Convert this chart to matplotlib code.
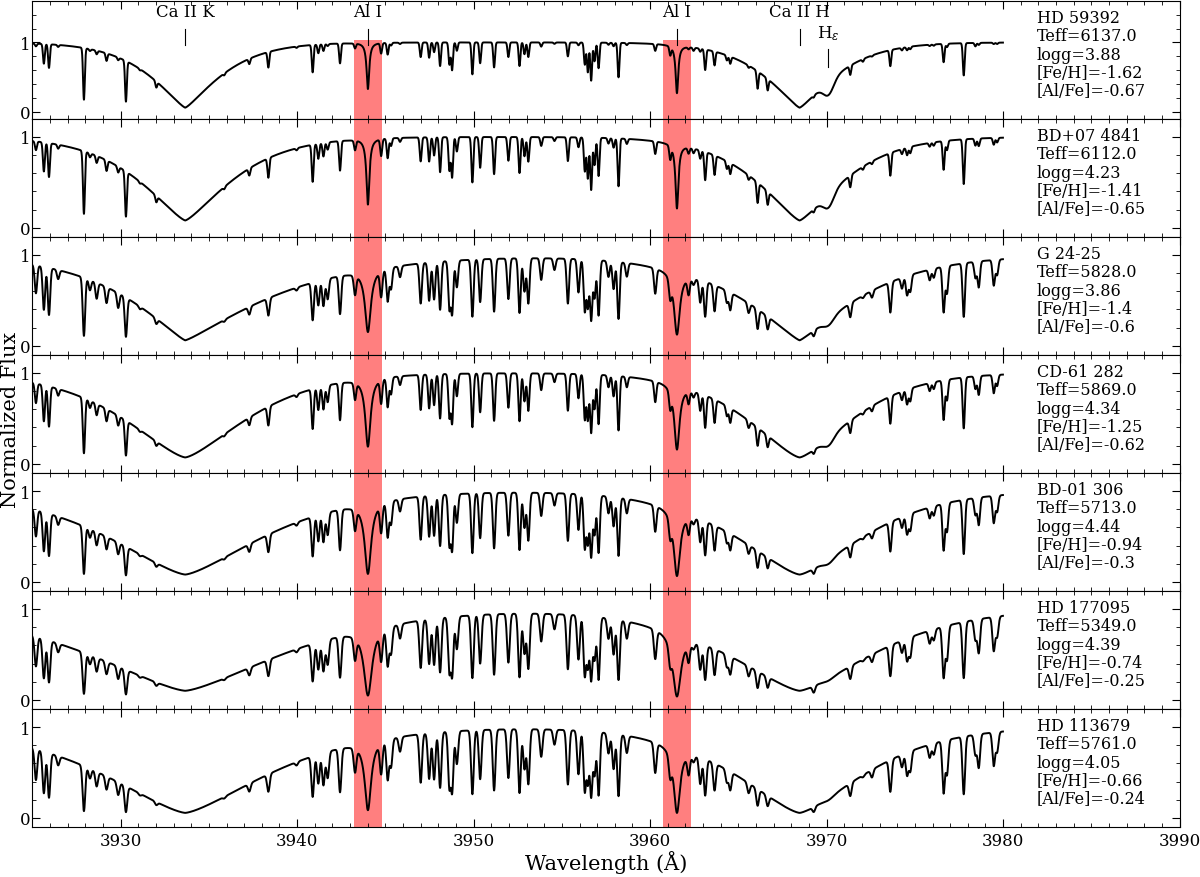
import numpy as np
import matplotlib.pyplot as plt
from matplotlib.ticker import MultipleLocator
import matplotlib.transforms as mtransforms

plt.rcParams['font.family'] = 'DejaVu Serif'
plt.rcParams['mathtext.fontset'] = 'dejavuserif'

# stars (top to bottom)
star_names = ['HD 59392', 'BD+07 4841', 'G 24-25', 'CD-61 282', 'BD-01 306', 'HD 177095', 'HD 113679']
teff = ['6137.0', '6112.0', '5828.0', '5869.0', '5713.0', '5349.0', '5761.0']
logg = ['3.88', '4.23', '3.86', '4.34', '4.44', '4.39', '4.05']
feh = ['-1.62', '-1.41', '-1.4', '-1.25', '-0.94', '-0.74', '-0.66']
alfe = ['-0.67', '-0.65', '-0.6', '-0.62', '-0.3', '-0.25', '-0.24']

# Ca II H & K wings: core depth, half widths (A) blue/red of K, H width, shape power
ca_core = [0.94, 0.92, 0.94, 0.93, 0.92, 0.90, 0.945]
ca_k_blue = [2.8, 3.7, 4.55, 5.0, 6.4, 8.0, 6.8]
ca_k_red = [2.8, 3.7, 6.5, 5.0, 6.4, 8.0, 6.8]
ca_h_width = [2.8, 3.5, 4.6, 4.3, 5.2, 6.0, 5.3]
ca_power = [1.25, 1.3, 1.2, 1.4, 1.4, 1.4, 1.4]

# H epsilon depth per star
heps_depth = [0.45, 0.4, 0.25, 0.3, 0.2, 0.1, 0.12]

# Al I lines: depth and width per star
al_wave = [3944.01, 3961.52]
al_depth = [[0.67, 0.72], [0.74, 0.77], [0.82, 0.85], [0.80, 0.82],
            [0.90, 0.92], [0.94, 0.95], [0.90, 0.93]]
al_width = [0.09, 0.10, 0.20, 0.18, 0.22, 0.28, 0.22]

# metal lines: wavelength, depth in HD 59392 (hot/poor), depth in HD 113679 (cool/rich)
line_wave = [3925.20, 3925.65, 3925.94, 3926.46, 3927.92, 3928.26, 3928.64, 3929.20, 3929.86,
             3930.30, 3931.09, 3932.02, 3935.87, 3937.29, 3938.37, 3939.97, 3940.88, 3941.20,
             3941.49, 3941.73, 3942.43, 3943.28, 3944.76, 3945.13, 3945.32, 3945.83, 3947.00,
             3947.48, 3947.76, 3948.10, 3948.63, 3948.78, 3949.05, 3949.93, 3950.37, 3951.16,
             3951.97, 3952.60, 3952.88, 3953.10, 3953.83, 3954.58, 3955.34, 3955.94, 3956.30,
             3956.47, 3956.66, 3956.85, 3957.08, 3957.64, 3957.93, 3958.21, 3958.68, 3960.29,
             3961.14, 3962.18, 3962.46, 3962.84, 3963.12, 3963.65, 3964.35, 3964.54, 3965.58,
             3966.09, 3966.66, 3969.27, 3971.34, 3972.06, 3972.57, 3973.61, 3974.27, 3974.56,
             3974.74, 3975.84, 3976.07, 3976.63, 3976.82, 3977.77, 3978.43, 3978.62, 3979.47,
             3979.66]
depth_hot = [0.04, 0.29, 0.35, 0.03, 0.81, 0.03, 0.06, 0.13, 0.05,
             0.80, 0.03, 0.20, 0.05, 0.10, 0.26, 0.02, 0.41, 0.13,
             0.10, 0.03, 0.29, 0.07, 0.15, 0.17, 0.04, 0.02, 0.21,
             0.22, 0.14, 0.34, 0.32, 0.40, 0.12, 0.46, 0.30, 0.36,
             0.21, 0.34, 0.17, 0.21, 0.06, 0.02, 0.20, 0.04, 0.32,
             0.43, 0.55, 0.27, 0.37, 0.03, 0.05, 0.50, 0.03, 0.10,
             0.13, 0.03, 0.05, 0.05, 0.33, 0.23, 0.09, 0.13, 0.05,
             0.43, 0.35, 0.12, 0.20, 0.05, 0.02, 0.26, 0.04, 0.05,
             0.04, 0.02, 0.02, 0.27, 0.05, 0.47, 0.05, 0.03, 0.02,
             0.02]
depth_cool = [0.45, 0.63, 0.69, 0.15, 0.87, 0.20, 0.32, 0.32, 0.36,
              0.82, 0.08, 0.20, 0.08, 0.23, 0.40, 0.06, 0.66, 0.46,
              0.50, 0.40, 0.63, 0.34, 0.41, 0.51, 0.35, 0.18, 0.58,
              0.54, 0.55, 0.65, 0.65, 0.70, 0.38, 0.73, 0.56, 0.69,
              0.55, 0.72, 0.45, 0.62, 0.31, 0.17, 0.62, 0.50, 0.70,
              0.60, 0.76, 0.50, 0.74, 0.24, 0.42, 0.74, 0.21, 0.40,
              0.32, 0.30, 0.10, 0.44, 0.62, 0.50, 0.26, 0.40, 0.29,
              0.58, 0.47, 0.46, 0.37, 0.05, 0.16, 0.55, 0.20, 0.35,
              0.30, 0.18, 0.15, 0.68, 0.44, 0.71, 0.24, 0.40, 0.39,
              0.23]
# how far each star sits between the two templates (line strength)
line_strength = [0.0, 0.15, 0.75, 0.5, 0.8, 1.05, 1.0]

ca_k, ca_h, h_eps = 3933.66, 3968.47, 3970.07


def spectrum(i, wave):
    flux = np.ones_like(wave)
    k_width = np.where(wave < ca_k, ca_k_blue[i], ca_k_red[i])
    for center, width in [(ca_k, k_width), (ca_h, ca_h_width[i])]:
        flux *= 1 - ca_core[i] * np.exp(-(np.abs(wave - center) / width) ** ca_power[i])
    flux *= 1 - heps_depth[i] * np.exp(-0.5 * ((wave - h_eps) / 0.3) ** 2)
    a = line_strength[i]
    sig = 0.05 + 0.025 * a
    for lw_, dh, dc in zip(line_wave, depth_hot, depth_cool):
        d = min(dh + a * (dc - dh), 0.95)
        flux *= 1 - d * np.exp(-0.5 * ((wave - lw_) / sig) ** 2)
    for lw_, d in zip(al_wave, al_depth[i]):
        flux *= 1 - d / (1 + ((wave - lw_) / al_width[i]) ** 2)
    return flux


wave = np.arange(3925.0, 3980.0, 0.01)

fig, axes = plt.subplots(7, 1, figsize=(12, 8.78), dpi=100, sharex=True)
fig.subplots_adjust(left=0.027, right=0.983, top=0.998, bottom=0.057, hspace=0)

for i, ax in enumerate(axes):
    ax.plot(wave, spectrum(i, wave), color='k', lw=1.4)
    ylim = (-0.1, 1.6) if i == 0 else (-0.1, 1.2)
    ax.set_ylim(ylim)
    top = (1.03 - ylim[0]) / (ylim[1] - ylim[0]) if i == 0 else 1
    for w in al_wave:
        ax.axvspan(w - 0.8, w + 0.8, ymax=top, color='red', alpha=0.5, lw=0)
    ax.set_xlim(3925, 3990)
    ax.set_yticks([0, 1])
    ax.xaxis.set_major_locator(MultipleLocator(10))
    ax.xaxis.set_minor_locator(MultipleLocator(1))
    ax.yaxis.set_minor_locator(MultipleLocator(0.2))
    ax.tick_params(which='both', direction='in', top=True, right=True, labelsize=12)
    ax.tick_params(which='major', length=6)
    ax.tick_params(which='minor', length=3)
    ax.tick_params(axis='y', pad=1.5)
    trans = mtransforms.blended_transform_factory(ax.transData, ax.transAxes)
    label = (f'{star_names[i]}\nTeff={teff[i]}\nlogg={logg[i]}\n'
             f'[Fe/H]={feh[i]}\n[Al/Fe]={alfe[i]}')
    ax.text(3981.9, 0.93, label, transform=trans, va='top', ha='left',
            fontsize=11.5, linespacing=1.1)

# line identifications on top panel
ax0 = axes[0]
for x, name in [(ca_k, 'Ca II K'), (al_wave[0], 'Al I'), (al_wave[1], 'Al I'), (ca_h, 'Ca II H')]:
    ax0.plot([x, x], [0.96, 1.2], color='k', lw=0.8)
    ax0.text(x, 1.33, name, ha='center', va='bottom', fontsize=12)
ax0.plot([h_eps, h_eps], [0.65, 0.9], color='k', lw=0.8)
ax0.text(h_eps, 1.0, r'H$_{\varepsilon}$', ha='center', va='bottom', fontsize=12)

axes[-1].set_xlabel('Wavelength (Å)', fontsize=15, labelpad=1)
fig.text(0.0085, 0.522, 'Normalized Flux', rotation=90, va='center', ha='center', fontsize=15)

fig.savefig('out.png', dpi=100)
